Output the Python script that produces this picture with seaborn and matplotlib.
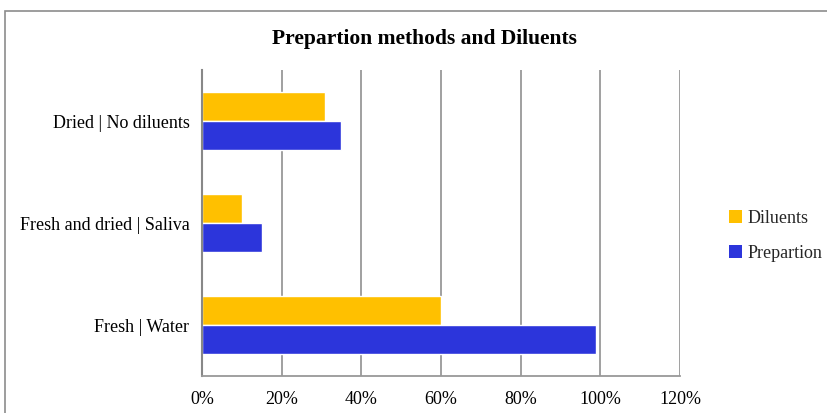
import matplotlib
matplotlib.use("Agg")
import matplotlib.pyplot as plt
from matplotlib.patches import Rectangle, Patch
import seaborn as sns
import pandas as pd

categories = ["Dried | No diluents", "Fresh and dried | Saliva", "Fresh | Water"]
diluents = [31, 10, 60]
prepartion = [35, 15, 99]
x_ticks = [0, 20, 40, 60, 80, 100, 120]
series_names = ["Diluents", "Prepartion"]
colors = {"Diluents": "#FFC000", "Prepartion": "#2C35DB"}

df = pd.DataFrame({
    "category": categories * 2,
    "value": diluents + prepartion,
    "series": [series_names[0]] * 3 + [series_names[1]] * 3,
})

sns.set_theme(style="white")
plt.rcParams["font.family"] = ["Liberation Serif", "DejaVu Serif"]

W, H = 828, 413
fig = plt.figure(figsize=(W / 100, H / 100), dpi=100)
ax = fig.add_axes([202 / W, 1 - 376 / H, (680 - 202) / W, (376 - 70) / H])

sns.barplot(data=df, y="category", x="value", hue="series", order=categories,
            hue_order=series_names, palette=colors, orient="h", width=0.57,
            ax=ax, legend=False, saturation=1)

ax.set_xlim(0, 120)
ax.set_ylim(2.5, -0.5)
ax.set_xticks(x_ticks)
ax.set_xticklabels([f"{t}%" for t in x_ticks], fontsize=13)
ax.tick_params(axis="y", labelsize=13, pad=9, length=0)
ax.tick_params(axis="x", pad=11, length=0)
ax.set_xlabel("")
ax.set_ylabel("")
ax.xaxis.grid(True, color="#999999", linewidth=1.3)
ax.set_axisbelow(True)
for s in ["top", "right"]:
    ax.spines[s].set_visible(False)
ax.spines["left"].set_color("#888888")
ax.spines["left"].set_linewidth(1.5)
ax.spines["bottom"].set_color("#999999")
ax.spines["bottom"].set_linewidth(1.3)
for t in ax.get_yticklabels() + ax.get_xticklabels():
    t.set_color("black")

fig.text(424 / W, 1 - 39 / H, "Prepartion methods and Diluents", ha="center",
         va="center", fontsize=15.5, fontweight="bold", color="black")

handles = [Patch(facecolor=colors[n], edgecolor="none") for n in series_names]
fig.legend(handles, series_names, loc="center left",
           bbox_to_anchor=(729 / W, 1 - 236 / H), frameon=False, fontsize=13,
           handlelength=0.7, handleheight=0.7, handletextpad=0.3,
           labelspacing=1.0, borderpad=0, borderaxespad=0)

fig.patches.append(Rectangle((5 / W, -0.1), 1.2, 1 - 11 / H + 0.1,
                             transform=fig.transFigure, fill=False,
                             edgecolor="#8c8c8c", linewidth=1.2))

fig.savefig("out.png", dpi=100)
